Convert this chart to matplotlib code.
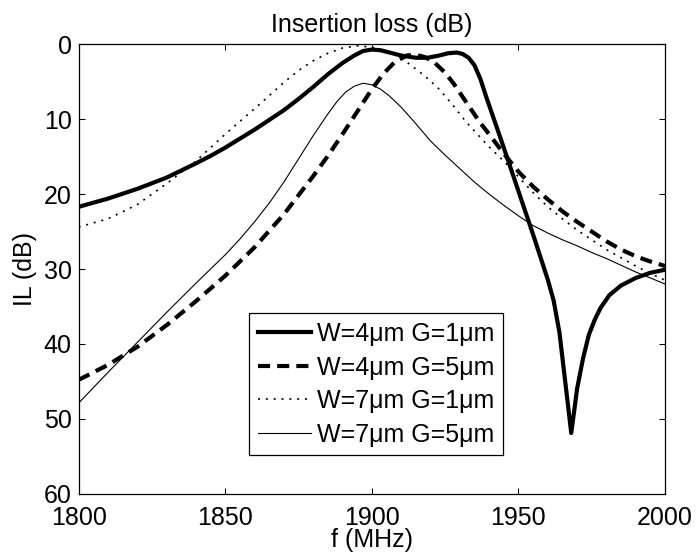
import matplotlib
matplotlib.use("Agg")
import matplotlib.pyplot as plt

plt.rcParams["font.family"] = ["Liberation Sans", "DejaVu Sans"]
plt.rcParams["font.size"] = 18

# W=4um G=1um
f1 = [1800, 1810, 1820, 1830, 1840, 1845, 1850, 1855, 1860, 1865, 1870, 1875, 1880, 1885,
      1890, 1894, 1897, 1900, 1903, 1906, 1910, 1915, 1919, 1923, 1926, 1929, 1931, 1933,
      1935, 1937, 1939, 1942, 1945, 1950, 1955, 1960, 1962, 1964, 1965.5, 1967, 1968,
      1969, 1970, 1972, 1974, 1976, 1978, 1981, 1985, 1990, 1995, 2000]
il1 = [21.7, 20.6, 19.3, 17.8, 15.9, 14.9, 13.8, 12.6, 11.4, 10.1, 8.8, 7.3, 5.7, 4.0,
       2.5, 1.5, 0.9, 0.7, 0.8, 1.1, 1.5, 1.8, 1.8, 1.5, 1.2, 1.1, 1.3, 1.8,
       2.8, 4.6, 7.0, 10.4, 13.8, 19.6, 25.4, 31.4, 34.2, 38.5, 43.5, 48.5, 51.9,
       49.0, 46.0, 42.0, 38.8, 36.8, 35.2, 33.5, 32.2, 31.2, 30.5, 30.1]

# W=4um G=5um
f2 = [1800, 1810, 1820, 1830, 1840, 1850, 1860, 1870, 1880, 1885, 1890, 1895, 1900, 1904,
      1908, 1912, 1915, 1918, 1921, 1925, 1928, 1933, 1937, 1940, 1945, 1950, 1955, 1960,
      1965, 1970, 1975, 1980, 1985, 1990, 1995, 2000]
il2 = [44.8, 42.8, 40.4, 37.5, 34.3, 30.9, 27.1, 22.7, 17.6, 14.9, 12.0, 9.0, 6.0, 3.9,
       2.3, 1.5, 1.4, 1.7, 2.3, 3.8, 5.3, 8.2, 10.5, 12.0, 14.6, 17.0, 19.0, 20.7,
       22.3, 23.7, 25.0, 26.3, 27.4, 28.3, 29.0, 29.6]

# W=7um G=1um
f3 = [1800, 1810, 1820, 1830, 1840, 1850, 1860, 1870, 1875, 1880, 1885, 1890, 1895, 1900,
      1905, 1910, 1913, 1918, 1923, 1928, 1932, 1936, 1940, 1945, 1950, 1955, 1960, 1965,
      1970, 1975, 1980, 1985, 1990, 1995, 2000]
il3 = [24.4, 23.3, 21.4, 18.6, 15.6, 12.0, 8.6, 5.1, 3.5, 2.2, 1.2, 0.5, 0.2, 0.4,
       0.9, 1.8, 2.7, 4.2, 6.0, 8.3, 10.3, 12.0, 13.7, 15.6, 17.7, 19.8, 21.7, 23.3,
       24.8, 26.1, 27.4, 28.5, 29.6, 30.6, 31.5]

# W=7um G=5um
f4 = [1800, 1810, 1820, 1830, 1840, 1845, 1850, 1855, 1860, 1865, 1870, 1875, 1880, 1885,
      1888, 1891, 1894, 1897, 1900, 1903, 1906, 1910, 1915, 1920, 1925, 1930, 1935, 1940,
      1945, 1950, 1955, 1960, 1965, 1970, 1975, 1980, 1985, 1990, 1995, 2000]
il4 = [47.9, 43.8, 39.8, 35.8, 31.9, 30.0, 28.1, 26.0, 23.7, 21.2, 18.4, 15.3, 12.2, 9.3,
       7.7, 6.4, 5.6, 5.2, 5.4, 6.0, 6.9, 8.4, 10.6, 12.9, 14.8, 16.6, 18.4, 20.0,
       21.5, 22.9, 24.2, 25.2, 26.1, 26.9, 27.8, 28.6, 29.5, 30.4, 31.2, 32.0]

labels = ["W=4\u03bcm G=1\u03bcm", "W=4\u03bcm G=5\u03bcm",
          "W=7\u03bcm G=1\u03bcm", "W=7\u03bcm G=5\u03bcm"]

fig = plt.figure(figsize=(6.96, 5.57), dpi=100)
ax = fig.add_axes([0.113, 0.1136, 0.8425, 0.8069])

ax.plot(f1, il1, color="k", lw=3, label=labels[0])
ax.plot(f2, il2, color="k", lw=3, linestyle=(0, (2.9, 1.7)), label=labels[1])
ax.plot(f3, il3, color="k", lw=1.2, linestyle=(0, (1.2, 3.5)), label=labels[2])
ax.plot(f4, il4, color="k", lw=0.8, label=labels[3])

ax.set_xlim(1800, 2000)
ax.set_ylim(60, 0)
ax.set_xticks([1800, 1850, 1900, 1950, 2000])
ax.set_yticks([0, 10, 20, 30, 40, 50, 60])
ax.tick_params(direction="in", length=4.3, width=0.75, top=True, right=True, pad=5)
ax.tick_params(axis="x", pad=8.5)
for s in ax.spines.values():
    s.set_linewidth(0.9)

ax.set_title("Insertion loss (dB)", fontsize=18, pad=9)
ax.set_xlabel("f (MHz)", labelpad=-1)
ax.set_ylabel("IL (dB)", labelpad=5)

leg = ax.legend(loc="upper left", bbox_to_anchor=(0.291, 0.401), borderaxespad=0,
                fancybox=False, framealpha=1, edgecolor="k", handlelength=2.1,
                handletextpad=0.27, labelspacing=0.38, borderpad=0.35)
leg.get_frame().set_linewidth(0.9)

fig.savefig("out.png", dpi=100)
